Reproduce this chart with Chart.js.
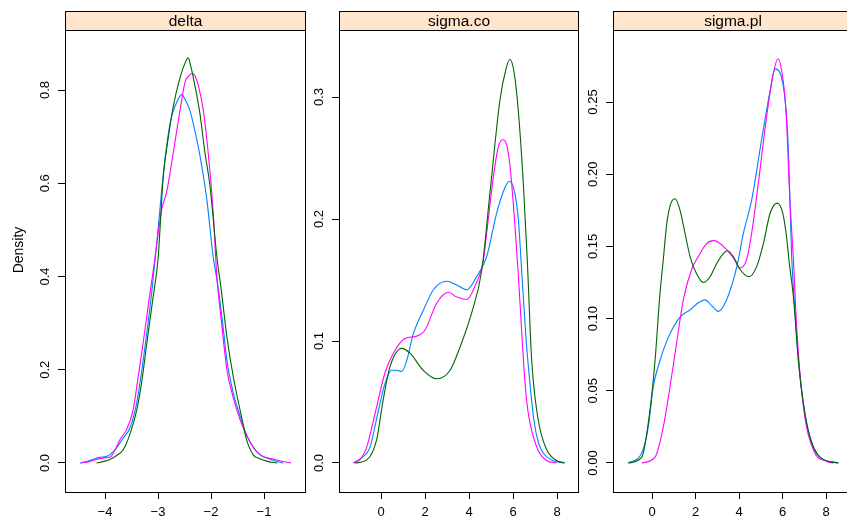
<!DOCTYPE html>
<html lang="en">
<head>
<meta charset="UTF-8">
<title>densityplot</title>
<style>
  html, body { margin: 0; padding: 0; background: #fff; overflow: hidden; }
  #wrap { position: relative; width: 847px; height: 521px; overflow: hidden; }
  canvas { position: absolute; top: 0; }
</style>
</head>
<body>
<div id="wrap">
  <canvas id="p1" width="308" height="521" style="left:0px"></canvas>
  <canvas id="p2" width="292" height="521" style="left:289px"></canvas>
  <canvas id="p3" width="292" height="521" style="left:563px"></canvas>
</div>

<script src="https://cdn.jsdelivr.net/npm/chart.js@4.4.1/dist/chart.umd.min.js"></script>
<script>
// group colours (lattice superpose.line)
const groupColors = ['#0080ff', '#ff00ff', '#006400'];

// delta panel: [x, density]
const deltaBlue = [[-4.47,0],[-4.3,0.005],[-4.1,0.012],[-3.95,0.015],[-3.8,0.03],[-3.65,0.055],[-3.53,0.075],
  [-3.4,0.13],[-3.28,0.22],[-3.12,0.365],[-3.0,0.5],[-2.9,0.62],[-2.77,0.73],[-2.62,0.78],[-2.55,0.79],
  [-2.49,0.78],[-2.4,0.757],[-2.3,0.71],[-2.21,0.66],[-2.08,0.566],[-1.96,0.443],[-1.87,0.38],[-1.78,0.3],
  [-1.7,0.22],[-1.58,0.15],[-1.45,0.1],[-1.33,0.06],[-1.21,0.035],[-1.08,0.018],[-0.95,0.011],[-0.8,0.005],[-0.64,0]];
const deltaPink = [[-4.45,0],[-4.3,0.003],[-4.15,0.008],[-4.0,0.011],[-3.9,0.013],[-3.8,0.03],[-3.72,0.05],
  [-3.6,0.07],[-3.47,0.114],[-3.38,0.18],[-3.28,0.258],[-3.17,0.35],[-3.06,0.437],[-3.0,0.49],[-2.93,0.544],
  [-2.84,0.58],[-2.72,0.66],[-2.58,0.76],[-2.49,0.817],[-2.42,0.83],[-2.36,0.836],[-2.3,0.83],[-2.24,0.81],
  [-2.15,0.76],[-2.06,0.673],[-1.96,0.54],[-1.89,0.4],[-1.8,0.3],[-1.7,0.2],[-1.58,0.14],[-1.45,0.092],
  [-1.33,0.06],[-1.21,0.035],[-1.1,0.02],[-1.0,0.013],[-0.85,0.009],[-0.7,0.005],[-0.49,0]];
const deltaGreen = [[-4.16,0],[-4.0,0.004],[-3.9,0.008],[-3.78,0.016],[-3.66,0.028],[-3.55,0.055],[-3.4,0.114],
  [-3.3,0.18],[-3.21,0.258],[-3.1,0.35],[-3.0,0.437],[-2.9,0.615],[-2.81,0.695],[-2.71,0.766],[-2.6,0.82],
  [-2.5,0.855],[-2.43,0.869],[-2.38,0.85],[-2.34,0.83],[-2.21,0.75],[-2.12,0.67],[-2.02,0.594],[-1.89,0.443],
  [-1.8,0.365],[-1.7,0.27],[-1.58,0.185],[-1.4,0.086],[-1.33,0.05],[-1.2,0.017],[-1.1,0.01],[-0.95,0.004],[-0.75,0]];

// sigma.co panel
const sigcoBlue = [[-1.25,0],[-0.9,0.004],[-0.5,0.013],[-0.12,0.043],[0.18,0.065],[0.48,0.076],[0.71,0.076],
  [0.94,0.075],[1.17,0.084],[1.47,0.106],[1.92,0.125],[2.38,0.142],[2.98,0.149],[3.44,0.146],[3.9,0.142],
  [4.35,0.153],[4.8,0.169],[5.26,0.205],[5.64,0.226],[5.83,0.231],[6.05,0.224],[6.24,0.2],[6.42,0.15],
  [6.6,0.1],[6.8,0.06],[6.95,0.035],[7.15,0.017],[7.38,0.008],[7.8,0.002],[8.3,0]];
const sigcoPink = [[-1.25,0],[-0.9,0.004],[-0.65,0.013],[-0.2,0.046],[0.18,0.074],[0.56,0.09],[1.09,0.102],
  [1.62,0.104],[2.0,0.109],[2.53,0.131],[3.06,0.14],[3.44,0.136],[3.9,0.134],[4.27,0.145],[4.65,0.166],
  [4.8,0.188],[5.11,0.235],[5.33,0.259],[5.53,0.265],[5.74,0.259],[5.9,0.237],[6.09,0.194],[6.24,0.155],
  [6.42,0.1],[6.55,0.065],[6.7,0.04],[7.08,0.013],[7.53,0.002],[7.98,0]];
const sigcoGreen = [[-1.18,0],[-0.65,0.0025],[-0.2,0.019],[0.1,0.052],[0.41,0.079],[0.94,0.094],[1.32,0.09],
  [1.92,0.076],[2.53,0.069],[3.14,0.076],[3.59,0.095],[4.12,0.123],[4.58,0.158],[4.95,0.221],[5.41,0.298],
  [5.68,0.323],[5.86,0.331],[6.06,0.319],[6.24,0.289],[6.47,0.229],[6.65,0.166],[6.85,0.084],[7.15,0.035],
  [7.53,0.011],[7.98,0.002],[8.36,0]];

// sigma.pl panel
const sigplBlue = [[-1.09,0],[-0.47,0.007],[-0.17,0.025],[0.06,0.053],[0.37,0.071],[0.75,0.087],[1.29,0.101],
  [1.75,0.106],[2.13,0.111],[2.44,0.113],[2.74,0.109],[3.05,0.105],[3.43,0.113],[3.9,0.136],[4.2,0.159],
  [4.58,0.182],[5.04,0.224],[5.43,0.258],[5.66,0.273],[5.86,0.271],[6.12,0.251],[6.27,0.217],[6.42,0.143],
  [6.6,0.1],[6.73,0.071],[6.96,0.041],[7.26,0.018],[7.72,0.004],[8.57,0]];
const sigplPink = [[-0.47,0],[0.14,0.004],[0.52,0.025],[0.83,0.053],[1.13,0.083],[1.44,0.113],[1.82,0.134],
  [2.13,0.143],[2.51,0.152],[2.85,0.154],[3.28,0.15],[3.74,0.142],[4.05,0.135],[4.35,0.141],[4.58,0.159],
  [4.89,0.194],[5.27,0.24],[5.58,0.27],[5.79,0.28],[5.96,0.272],[6.16,0.244],[6.34,0.182],[6.5,0.141],
  [6.65,0.094],[6.96,0.039],[7.42,0.009],[8.03,0.001],[8.34,0]];
const sigplGreen = [[-1.09,0],[-0.47,0.004],[-0.09,0.037],[0.14,0.071],[0.37,0.118],[0.52,0.141],[0.68,0.166],
  [0.87,0.18],[1.07,0.183],[1.29,0.175],[1.52,0.159],[1.75,0.143],[2.05,0.131],[2.36,0.125],[2.67,0.129],
  [2.97,0.138],[3.28,0.145],[3.46,0.147],[3.74,0.143],[4.05,0.134],[4.46,0.129],[4.81,0.136],[5.12,0.152],
  [5.43,0.173],[5.76,0.18],[6.01,0.173],[6.19,0.156],[6.3,0.14],[6.5,0.115],[6.73,0.071],[6.96,0.041],
  [7.26,0.018],[7.72,0.004],[8.57,0]];

// ticks
const deltaXTicks = [-4, -3, -2, -1];
const deltaYTicks = [0, 0.2, 0.4, 0.6, 0.8];
const deltaYLabels = ['0.0', '0.2', '0.4', '0.6', '0.8'];
const sigcoXTicks = [0, 2, 4, 6, 8];
const sigcoYTicks = [0, 0.1, 0.2, 0.3];
const sigcoYLabels = ['0.0', '0.1', '0.2', '0.3'];
const sigplXTicks = [0, 2, 4, 6, 8];
const sigplYTicks = [0, 0.05, 0.1, 0.15, 0.2, 0.25];
const sigplYLabels = ['0.00', '0.05', '0.10', '0.15', '0.20', '0.25'];

const FONT = 'Liberation Sans, Arial, sans-serif';

function fmtMinus(v) {
    return v < 0 ? '\u2212' + Math.abs(v) : String(v);
}

// frame, strip, rotated y labels
const panelDeco = {
    id: 'panelDeco',
    afterDraw(chart, args, opts) {
        const ctx = chart.ctx;
        const a = chart.chartArea;
        ctx.save();
        // strip
        ctx.fillStyle = '#ffe5cc';
        ctx.fillRect(a.left, 11, a.right - a.left, a.top - 11);
        ctx.strokeStyle = '#000';
        ctx.lineWidth = 1;
        ctx.strokeRect(a.left + 0.5, 11.5, a.right - a.left - 1, a.top - 11);
        ctx.fillStyle = '#000';
        ctx.font = '15.5px ' + FONT;
        ctx.textAlign = 'center';
        ctx.textBaseline = 'alphabetic';
        ctx.fillText(opts.name, (a.left + a.right) / 2, 26);
        // frame
        ctx.strokeRect(a.left + 0.5, a.top + 0.5, a.right - a.left - 1, a.bottom - a.top);
        // y labels
        const ys = chart.scales.y;
        ctx.font = '13px ' + FONT;
        ctx.textBaseline = 'middle';
        ys.ticks.forEach((t, i) => {
            const py = ys.getPixelForValue(t.value);
            ctx.save();
            ctx.translate(a.left - 20, py);
            ctx.rotate(-Math.PI / 2);
            ctx.fillText(opts.yLabels[i], 0, 0);
            ctx.restore();
        });
        if (opts.yTitle) {
            ctx.save();
            ctx.font = '14px ' + FONT;
            ctx.translate(19, 250);
            ctx.rotate(-Math.PI / 2);
            ctx.fillText(opts.yTitle, 0, 0);
            ctx.restore();
        }
        ctx.restore();
    }
};

function makePanel(id, name, series, xr, yr, xTicks, yTicks, yLabels, padLeft, yTitle) {
    const datasets = series.map((s, i) => ({
        data: s,
        borderColor: groupColors[i],
        borderWidth: 1.1,
        pointRadius: 0,
        fill: false,
        cubicInterpolationMode: 'monotone',
        order: 3 - i
    }));
    const axisGrid = { drawOnChartArea: false, drawTicks: true, tickLength: 7, color: '#000', tickColor: '#000', lineWidth: 1 };
    return new Chart(document.getElementById(id), {
        type: 'line',
        data: { datasets: datasets },
        options: {
            responsive: false,
            animation: false,
            layout: { padding: { left: padLeft, right: 2, top: 30, bottom: 0 } },
            plugins: {
                legend: { display: false },
                tooltip: { enabled: false },
                panelDeco: { name: name, yLabels: yLabels, yTitle: yTitle }
            },
            scales: {
                x: {
                    type: 'linear', min: xr[0], max: xr[1],
                    afterBuildTicks: s => { s.ticks = xTicks.map(v => ({ value: v })); },
                    afterFit: s => { s.height = 29; },
                    grid: axisGrid,
                    border: { display: false },
                    ticks: { color: '#000', font: { family: FONT, size: 13 }, padding: 6, maxRotation: 0, autoSkip: false, callback: v => fmtMinus(v) }
                },
                y: {
                    type: 'linear', min: yr[0], max: yr[1],
                    afterBuildTicks: s => { s.ticks = yTicks.map(v => ({ value: v })); },
                    afterFit: s => { s.width = 30; },
                    grid: axisGrid,
                    border: { display: false },
                    ticks: { display: false }
                }
            }
        },
        plugins: [panelDeco]
    });
}

makePanel('p1', 'delta', [deltaBlue, deltaPink, deltaGreen], [-4.755, -0.208], [-0.0622, 0.9287],
    deltaXTicks, deltaYTicks, deltaYLabels, 35, 'Density');
makePanel('p2', 'sigma.co', [sigcoBlue, sigcoPink, sigcoGreen], [-1.91, 9.0], [-0.0238, 0.355],
    sigcoXTicks, sigcoYTicks, sigcoYLabels, 20, null);
makePanel('p3', 'sigma.pl', [sigplBlue, sigplPink, sigplGreen], [-1.793, 9.24], [-0.0201, 0.2999],
    sigplXTicks, sigplYTicks, sigplYLabels, 20, null);
</script>
</body>
</html>
